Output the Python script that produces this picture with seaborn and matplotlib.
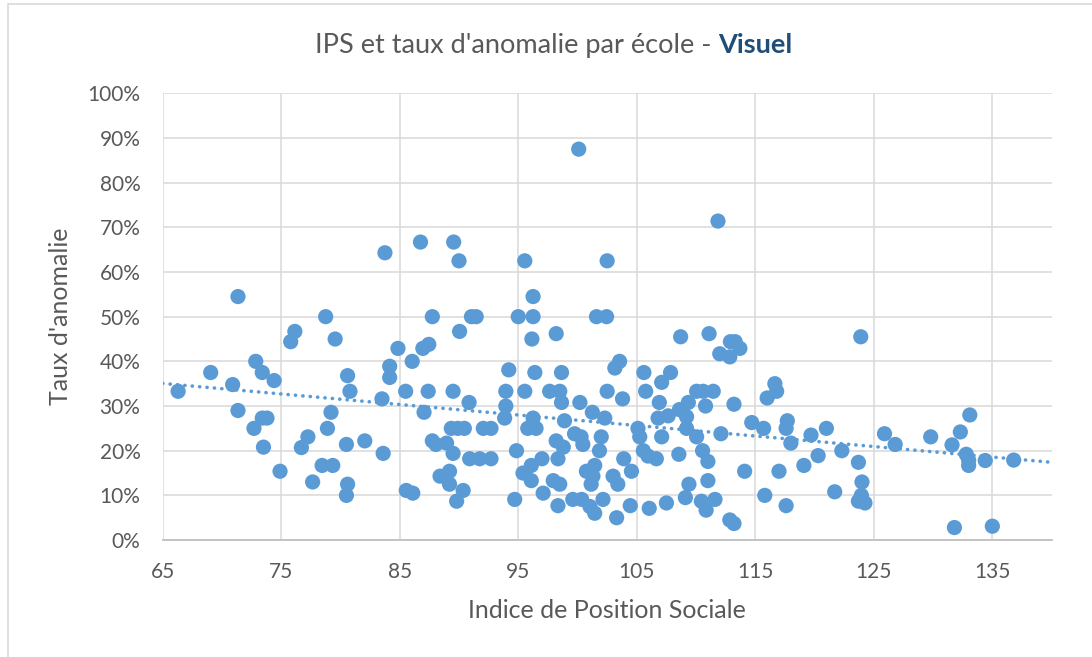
import numpy as np
import pandas as pd
import matplotlib
matplotlib.use("Agg")
import matplotlib.pyplot as plt
import seaborn as sns
from matplotlib.ticker import PercentFormatter, MultipleLocator
from matplotlib.patches import Rectangle

# Indice de Position Sociale de chaque école
ips = [
    66.3, 69.05, 70.9, 71.35, 71.35, 72.7, 72.85, 73.4, 73.4, 73.8,
    73.5, 74.4, 74.9, 75.8, 76.15, 76.7, 77.25, 77.65, 78.45, 78.75,
    78.9, 79.2, 79.35, 79.55, 80.5, 80.6, 80.6, 80.5, 80.8, 82.05,
    83.5, 83.6, 83.75, 84.15, 84.15, 84.85, 85.5, 85.55, 86.1, 86.05,
    86.75, 86.95, 87.45, 87.05, 87.4, 87.75, 87.75, 88.05, 88.4, 88.95,
    89.2, 89.2, 89.35, 89.5, 89.5, 89.55, 89.8, 89.9, 90.0, 90.05,
    90.35, 90.45, 90.85, 90.9, 91.05, 91.45, 91.75, 92.05, 92.7, 92.7,
    93.85, 93.95, 93.95, 94.2, 94.7, 94.85, 95.0, 95.4, 95.55, 95.55,
    95.8, 96.1, 96.1, 96.15, 96.25, 96.25, 96.25, 96.4, 96.5, 97.0,
    97.1, 97.65, 97.95, 98.2, 98.2, 98.35, 98.35, 98.5, 98.5, 98.65,
    98.65, 98.8, 98.9, 99.6, 99.75, 100.1, 100.2, 100.3, 100.35, 100.45,
    100.75, 101.05, 101.15, 101.25, 101.3, 101.45, 101.45, 101.6, 101.85, 102.0,
    102.15, 102.3, 102.45, 102.5, 102.5, 103.0, 103.15, 103.3, 103.4, 103.55,
    103.8, 103.9, 104.45, 104.55, 105.1, 105.25, 105.55, 105.6, 105.75, 105.95,
    106.05, 106.65, 106.8, 106.9, 107.1, 107.1, 107.5, 107.65, 107.85, 108.55,
    108.6, 108.7, 109.1, 109.2, 109.2, 109.35, 109.4, 110.05, 110.05, 110.45,
    110.55, 110.6, 110.8, 110.85, 111.0, 111.0, 111.1, 111.45, 111.6, 111.85,
    112.0, 112.1, 112.85, 112.9, 113.3, 113.7, 113.2, 112.85, 113.2, 114.1,
    114.7, 115.7, 115.8, 116.0, 116.65, 116.8, 117.0, 117.6, 117.7, 117.6,
    118.0, 119.1, 119.7, 120.3, 121.0, 121.7, 122.3, 123.7, 123.9, 124.0,
    123.95, 123.7, 124.25, 125.9, 126.8, 129.8, 131.6, 131.8, 132.3, 132.8,
    133.0, 133.0, 133.1, 134.4, 135.0, 136.8,
]

# Taux d'anomalie (%) correspondant
taux = [
    33.3, 37.5, 34.8, 54.5, 29.0, 25.0, 40.0, 37.5, 27.3, 27.3,
    20.8, 35.7, 15.4, 44.4, 46.7, 20.7, 23.1, 13.0, 16.7, 50.0,
    25.0, 28.6, 16.7, 45.0, 21.4, 36.8, 12.5, 10.0, 33.3, 22.2,
    31.6, 19.4, 64.3, 38.9, 36.4, 42.9, 33.3, 11.1, 10.5, 40.0,
    66.7, 42.9, 43.8, 28.6, 33.3, 50.0, 22.2, 21.4, 14.3, 21.7,
    15.4, 12.5, 25.0, 33.3, 19.4, 66.7, 8.7, 25.0, 62.5, 46.7,
    11.1, 25.0, 30.8, 18.2, 50.0, 50.0, 18.2, 25.0, 25.0, 18.2,
    27.3, 30.0, 33.3, 38.1, 9.1, 20.0, 50.0, 15.0, 62.5, 33.3,
    25.0, 16.7, 13.3, 45.0, 54.5, 50.0, 27.3, 37.5, 25.0, 18.2,
    10.5, 33.3, 13.3, 46.2, 22.2, 18.2, 7.7, 33.3, 12.5, 37.5,
    30.8, 20.8, 26.7, 9.1, 23.8, 87.5, 30.8, 23.1, 9.1, 21.4,
    15.4, 7.5, 12.5, 28.6, 14.3, 16.7, 6.0, 50.0, 20.0, 23.1,
    9.1, 27.3, 50.0, 62.5, 33.3, 14.3, 38.5, 5.0, 12.5, 40.0,
    31.6, 18.2, 7.7, 15.4, 25.0, 23.1, 20.0, 37.5, 33.3, 18.8,
    7.1, 18.2, 27.3, 30.8, 35.3, 23.1, 8.3, 27.8, 37.5, 19.2,
    29.2, 45.5, 9.5, 27.6, 25.0, 30.8, 12.5, 33.3, 23.1, 8.7,
    20.0, 33.3, 30.0, 6.7, 17.6, 13.3, 46.2, 33.3, 9.1, 71.4,
    41.7, 23.8, 41.0, 44.4, 44.4, 42.9, 30.4, 4.5, 3.7, 15.4,
    26.3, 25.0, 10.0, 31.8, 35.0, 33.3, 15.4, 25.0, 26.7, 7.7,
    21.7, 16.7, 23.5, 18.9, 25.0, 10.8, 20.0, 17.4, 45.5, 13.0,
    10.0, 8.7, 8.3, 23.8, 21.4, 23.1, 21.3, 2.8, 24.2, 19.2,
    17.9, 16.7, 28.0, 17.8, 3.1, 17.9,
]

x_ticks = [65, 75, 85, 95, 105, 115, 125, 135]

df = pd.DataFrame({"ips": ips, "taux": np.array(taux) / 100})

sns.set_theme(style="white")
plt.rcParams["font.family"] = ["Lato", "DejaVu Sans"]

blue = "#5B9BD5"
grey_txt = "#595959"

fig = plt.figure(figsize=(10.92, 6.57), dpi=100)
ax = fig.add_axes([0.149, 0.178, 0.814, 0.680])
ax.set_xlim(65, 140)
ax.set_ylim(0, 1)

# trendline (linear, dotted) across the whole axis
sns.regplot(data=df, x="ips", y="taux", ax=ax, ci=None, truncate=False,
            scatter=False,
            line_kws=dict(color=blue, lw=2.6, ls=(0, (0.05, 2.0)),
                          dash_capstyle="round", zorder=2))
sns.scatterplot(data=df, x="ips", y="taux", ax=ax, color=blue, s=120,
                edgecolor="none", linewidth=0, zorder=3)

ax.set_xlim(65, 140)
ax.set_ylim(0, 1)
ax.set_xticks(x_ticks)
ax.yaxis.set_major_locator(MultipleLocator(0.1))
ax.yaxis.set_major_formatter(PercentFormatter(xmax=1, decimals=0))
ax.grid(True, color="#D9D9D9", lw=1.1)
ax.set_axisbelow(True)
for s in ["top", "right", "left"]:
    ax.spines[s].set_visible(False)
ax.spines["bottom"].set_color("#BFBFBF")
ax.spines["bottom"].set_linewidth(1.3)
ax.tick_params(axis="y", length=0, labelsize=15, labelcolor=grey_txt, pad=16)
ax.tick_params(axis="x", length=0, labelsize=15, labelcolor=grey_txt, pad=16)

ax.set_xlabel("Indice de Position Sociale", fontsize=18, color=grey_txt)
ax.set_ylabel("Taux d'anomalie", fontsize=18, color=grey_txt)
ax.xaxis.set_label_coords(0.5, -0.157)
ax.xaxis.label.set_va("center")
ax.yaxis.set_label_coords(-0.115, 0.5)
ax.yaxis.label.set_va("center")

# title in two parts: plain grey + bold dark blue
t1 = fig.text(0, 0.931, "IPS et taux d'anomalie par école - ", fontsize=19.5,
              color=grey_txt, va="center")
t2 = fig.text(0, 0.931, "Visuel", fontsize=19.5, color="#1F4E79",
              weight="bold", va="center")
fig.canvas.draw()
r = fig.canvas.get_renderer()
W = fig.bbox.width
w1 = t1.get_window_extent(r).width
w2 = t2.get_window_extent(r).width
x0 = 0.507 * W - (w1 + w2) / 2
t1.set_x(x0 / W)
t2.set_x((x0 + w1) / W)

# chart area border
fig.patches.append(Rectangle((8 / 1092, -0.05), 1.2, 1.05 - 4 / 657,
                             transform=fig.transFigure, fill=False,
                             edgecolor="#D9D9D9", lw=1.2))

fig.savefig("out.png", dpi=100, facecolor="white")
